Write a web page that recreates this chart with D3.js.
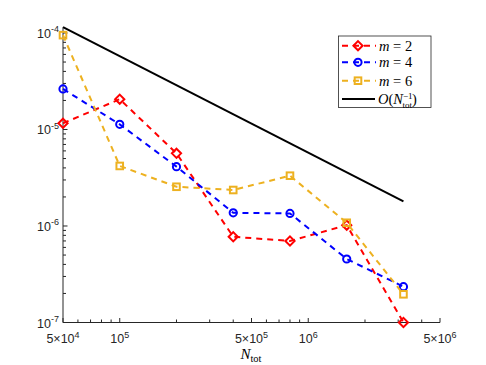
<!DOCTYPE html>
<html>
<head>
<meta charset="utf-8">
<script src="https://cdn.jsdelivr.net/npm/d3@7.9.0/dist/d3.min.js"></script>
<style>
  body { margin: 0; background: #fff; }
  svg { display: block; font-family: "Liberation Sans", Arial, sans-serif; }
</style>
</head>
<body>
<svg id="chart" width="486" height="365"></svg>
<script>
// --- Data ---
const nTot = [5e4, 1e5, 2e5, 4e5, 8e5, 1.6e6, 3.2e6];
const errM2 = [1.16e-5, 2.06e-5, 5.66e-6, 7.74e-7, 6.99e-7, 1.02e-6, 1.0e-7];
const errM4 = [2.63e-5, 1.13e-5, 4.12e-6, 1.37e-6, 1.35e-6, 4.55e-7, 2.35e-7];
const errM6 = [9.5e-5, 4.19e-6, 2.55e-6, 2.36e-6, 3.32e-6, 1.08e-6, 1.96e-7];
const refN = [5e4, 3.2e6];
const refErr = [1.15e-4, 1.8e-6];

const xTickVals = [5e4, 1e5, 5e5, 1e6, 5e6];
const xTickMant = ['5', '', '5', '', '5'];
const xTickExp = ['4', '5', '5', '6', '6'];
const yTickVals = [1e-7, 1e-6, 1e-5, 1e-4];
const yTickExp = ['-7', '-6', '-5', '-4'];

const series = [
  { label: '2', values: errM2, color: '#ff0000', marker: 'diamond' },
  { label: '4', values: errM4, color: '#0000ff', marker: 'circle' },
  { label: '6', values: errM6, color: '#edb120', marker: 'square' }
];

// --- Scales ---
const svg = d3.select('#chart');
const axisColor = '#262626';
const x = d3.scaleLog().domain([5e4, 5e6]).range([63, 440]);
const y = d3.scaleLog().domain([1e-7, 1.14e-4]).range([322.5, 27.5]);

// minor ticks 1..9 per decade
const minorX = [];
for (let e = 4; e <= 6; e++) for (let k = 1; k <= 9; k++) {
  const v = k * Math.pow(10, e);
  if (v >= 5e4 && v <= 5e6) minorX.push(v);
}
const minorY = [];
for (let e = -7; e <= -5; e++) for (let k = 1; k <= 9; k++) {
  const v = k * Math.pow(10, e);
  if (v >= 1e-7 && v <= 1.14e-4) minorY.push(v);
}
minorY.push(1e-4);

const axes = svg.append('g').attr('stroke', axisColor).attr('stroke-width', 1);
axes.append('line').attr('x1', 63).attr('x2', 440).attr('y1', 322.5).attr('y2', 322.5);
axes.append('line').attr('x1', 63).attr('x2', 63).attr('y1', 322.5).attr('y2', 27.5);
axes.selectAll('.mx').data(minorX).join('line')
  .attr('x1', d => x(d)).attr('x2', d => x(d))
  .attr('y1', 322.5).attr('y2', d => xTickVals.includes(d) ? 318 : 319.5);
axes.selectAll('.my').data(minorY).join('line')
  .attr('y1', d => y(d)).attr('y2', d => y(d))
  .attr('x1', 63).attr('x2', d => yTickVals.includes(d) ? 67.5 : 66);

// tick labels
const xl = svg.append('g').attr('fill', axisColor).attr('font-size', 12.5);
xTickVals.forEach((v, i) => {
  const t = xl.append('text').attr('x', x(v)).attr('y', 343).attr('text-anchor', 'middle');
  if (xTickMant[i]) t.append('tspan').text(xTickMant[i] + '\u00d710');
  else t.append('tspan').text('10');
  t.append('tspan').attr('dy', -5.5).attr('font-size', 9).text(xTickExp[i]);
});
yTickVals.forEach((v, i) => {
  const t = xl.append('text').attr('x', 59).attr('y', y(v) + 5).attr('text-anchor', 'end');
  t.append('tspan').text('10');
  t.append('tspan').attr('dy', -5.5).attr('font-size', 9).text(yTickExp[i]);
});

// x label
const xlab = svg.append('text').attr('x', 251).attr('y', 359).attr('text-anchor', 'middle')
  .attr('font-family', '"Liberation Serif", "DejaVu Serif", serif').attr('font-size', 15).attr('fill', '#000');
xlab.append('tspan').attr('font-style', 'italic').text('N');
xlab.append('tspan').attr('dy', 3).attr('font-size', 10.5).text('tot');

// --- Lines ---
const line = d3.line().x(d => x(d[0])).y(d => y(d[1]));
svg.append('path').datum(refN.map((n, i) => [n, refErr[i]]))
  .attr('d', line).attr('fill', 'none').attr('stroke', '#000').attr('stroke-width', 2);

function drawMarker(g, type, cx, cy, color) {
  if (type === 'circle') {
    g.append('circle').attr('cx', cx).attr('cy', cy).attr('r', 3.6)
      .attr('fill', 'none').attr('stroke', color).attr('stroke-width', 2);
  } else if (type === 'square') {
    g.append('rect').attr('x', cx - 3.3).attr('y', cy - 3.3).attr('width', 6.6).attr('height', 6.6)
      .attr('fill', 'none').attr('stroke', color).attr('stroke-width', 2);
  } else {
    const r = 4.6;
    g.append('path').attr('d', `M${cx},${cy - r}L${cx + r},${cy}L${cx},${cy + r}L${cx - r},${cy}Z`)
      .attr('fill', 'none').attr('stroke', color).attr('stroke-width', 2);
  }
}

series.forEach(s => {
  const pts = nTot.map((n, i) => [n, s.values[i]]);
  const g = svg.append('g');
  g.append('path').datum(pts).attr('d', line).attr('fill', 'none')
    .attr('stroke', s.color).attr('stroke-width', 2).attr('stroke-dasharray', '6,5');
  pts.forEach(p => drawMarker(g, s.marker, x(p[0]), y(p[1]), s.color));
});

// --- Legend ---
const leg = svg.append('g');
leg.append('rect').attr('x', 338.5).attr('y', 36).attr('width', 92.5).attr('height', 71.5)
  .attr('fill', '#fff').attr('stroke', '#262626').attr('stroke-width', 0.8);
const rowY = [45.7, 62.3, 80.7, 99];
const serif = '"Liberation Serif", "DejaVu Serif", serif';
series.forEach((s, i) => {
  const yy = rowY[i];
  leg.append('line').attr('x1', 342).attr('x2', 376).attr('y1', yy).attr('y2', yy)
    .attr('stroke', s.color).attr('stroke-width', 2).attr('stroke-dasharray', '6,5');
  drawMarker(leg, s.marker, 358, yy, s.color);
  const t = leg.append('text').attr('x', 379).attr('y', yy + 5)
    .attr('font-family', serif).attr('font-size', 14.5).attr('fill', '#000');
  t.append('tspan').attr('font-style', 'italic').text('m');
  t.append('tspan').text(' = ' + s.label);
});
leg.append('line').attr('x1', 342).attr('x2', 375).attr('y1', rowY[3]).attr('y2', rowY[3])
  .attr('stroke', '#000').attr('stroke-width', 2);
const tr = leg.append('text').attr('x', 378).attr('y', rowY[3] + 5)
  .attr('font-family', serif).attr('font-size', 14.5).attr('fill', '#000');
tr.append('tspan').attr('font-style', 'italic').text('O');
tr.append('tspan').text('(');
tr.append('tspan').attr('font-style', 'italic').text('N');
tr.append('tspan').attr('dy', -5.5).attr('font-size', 9).text('\u22121');
tr.append('tspan').attr('dy', 9).attr('dx', -10).attr('font-size', 9).text('tot');
tr.append('tspan').attr('dy', -3.5).text(')');
</script>
</body>
</html>
